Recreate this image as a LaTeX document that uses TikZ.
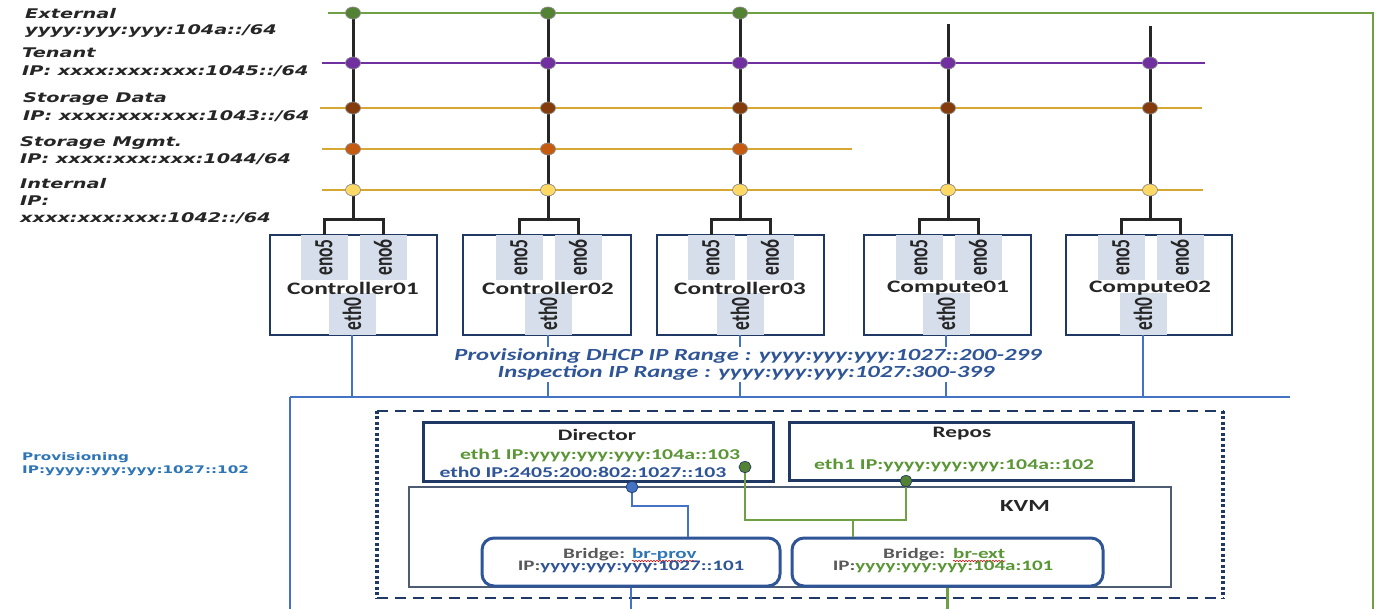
\documentclass[tikz,border=0pt]{standalone}
\usepackage{fontspec}
\usetikzlibrary{calc,shapes.geometric,decorations.pathmorphing}
\newfontfamily\fcal[FakeStretch=1.45]{Carlito}
\newfontfamily\fcalr{Carlito}
\newfontfamily\fver[FakeStretch=1.45]{DejaVu Sans}
\definecolor{navy}{HTML}{203864}
\definecolor{tabc}{HTML}{D6DEEC}
\definecolor{bl}{HTML}{4472C4}
\definecolor{btext}{HTML}{2F5597}
\definecolor{ltext}{HTML}{2E75B6}
\definecolor{gtext}{HTML}{5A9636}
\definecolor{gl}{HTML}{6FA046}
\definecolor{gdot}{HTML}{548235}
\definecolor{purp}{HTML}{7030A0}
\definecolor{gold}{HTML}{D6A832}
\definecolor{brn}{HTML}{843C0C}
\definecolor{orng}{HTML}{C55A11}
\definecolor{yel}{HTML}{FFD966}
\definecolor{blk}{HTML}{262626}
\definecolor{gry}{HTML}{595959}
\definecolor{kvmc}{HTML}{4D5B73}
\newcommand\rtab[1]{\scalebox{1.5}[1]{\rotatebox{90}{\fcalr\bfseries\fontsize{17.5}{17.5}\selectfont #1}}}
\tikzset{
  lab/.style={anchor=west, inner sep=0pt, text=blk, font=\fver\bfseries\itshape\fontsize{13.3}{15}\selectfont},
  plab/.style={anchor=west, inner sep=0pt, text=ltext, font=\fver\bfseries\fontsize{10.5}{12}\selectfont},
  vl/.style={line width=3pt, draw=blk},
  bus/.style={line width=2pt},
  bline/.style={line width=2.5pt, draw=bl},
  gline/.style={line width=2.5pt, draw=gl},
  dot/.style={ellipse, minimum width=15pt, minimum height=12pt, inner sep=0pt, draw=gry!70, line width=0.7pt},
  sdot/.style={dot, draw=navy, minimum width=12pt, minimum height=11pt},
  srv/.style={draw=navy, line width=2.5pt, minimum height=100pt, inner sep=0pt},
  tabbox/.style={fill=tabc, minimum width=47pt, inner sep=0pt, text=blk},
  srvlab/.style={inner sep=0pt, text=blk, font=\fcal\bfseries\fontsize{17.5}{20}\selectfont},
  prov/.style={fill=white, inner sep=1.5pt, text=btext, font=\fcal\bfseries\itshape\fontsize{17}{19}\selectfont},
  vmbox/.style={draw=navy, line width=3pt, inner sep=0pt},
  vmt/.style={inner sep=0pt, font=\fcal\bfseries\fontsize{15}{17}\selectfont},
  brbox/.style={draw=btext, line width=3pt, rounded corners=12pt, inner sep=0pt, minimum height=48pt},
  brt/.style={inner sep=0pt, font=\fcal\bfseries\fontsize{14.5}{16}\selectfont},
  squig/.style={draw=red!85!black, line width=0.6pt, decorate, decoration={snake, amplitude=0.7pt, segment length=3pt}},
}
\begin{document}
\begin{tikzpicture}[x=1pt,y=-1pt]
\useasboundingbox (0,0) rectangle (1383,609);
\fill[white] (0,0) rectangle (1383,609);

% left labels
\node[lab] (l1) at (25,14) {External};
\node[lab] (l2) at (25,31) {yyyy:yyy:yyy:104a::/64};
\node[lab] (l3) at (22,53) {Tenant};
\node[lab] (l4) at (22,71) {IP: xxxx:xxx:xxx:1045::/64};
\node[lab] (l5) at (23,99) {Storage Data};
\node[lab] (l6) at (23,116) {IP: xxxx:xxx:xxx:1043::/64};
\node[lab] (l7) at (20,143) {Storage Mgmt.};
\node[lab] (l8) at (20,159) {IP: xxxx:xxx:xxx:1044/64};
\node[lab] (l9) at (20,184) {Internal};
\node[lab] (l10) at (20,201) {IP:};
\node[lab] (l11) at (20,218) {xxxx:xxx:xxx:1042::/64};

% buses
\coordinate (ext-l) at (328,13); \coordinate (ext-r) at (1373,13); \coordinate (ext-b) at (1373,609);
\coordinate (ten-l) at (322,63); \coordinate (ten-r) at (1205,63);
\coordinate (sd-l) at (320,108); \coordinate (sd-r) at (1202,108);
\coordinate (sm-l) at (322,149); \coordinate (sm-r) at (852,149);
\coordinate (in-l) at (322,190); \coordinate (in-r) at (1203,190);
\draw[gline] (ext-l) -- (ext-r) -- (ext-b);
\draw[bus, draw=purp] (ten-l) -- (ten-r);
\draw[bus, draw=gold] (sd-l) -- (sd-r);
\draw[bus, draw=gold] (sm-l) -- (sm-r);
\draw[bus, draw=gold] (in-l) -- (in-r);

% provisioning network
\coordinate (hb) at (0,397);
\coordinate (hl) at (290,397); \coordinate (hr) at (1290,397); \coordinate (hbot) at (290,609);
\draw[bline] (hl) -- (hr);
\draw[bline] (hl) -- (hbot);

% servers
\foreach \n/\vx/\bl/\br/\name/\ex/\tp in {c1/353/270/437/Controller01/352/13, c2/548/463/631/Controller02/548/13, c3/740/657/824/Controller03/740/13, p1/948/864/1031/Compute01/946/24, p2/1150/1066/1232/Compute02/1143/26}{
  \coordinate (\n-t) at (\vx,\tp);
  \coordinate (\n-k) at (\vx,220);
  \draw[vl] (\n-t) -- (\n-k);
  \node[srv, minimum width={\br-\bl}] (\n) at ({(\bl+\br)/2},285) {};
  \node[tabbox, minimum height=45pt] (\n-a) at ({\vx-29},257.5) {\rtab{eno5}};
  \node[tabbox, minimum height=45pt] (\n-b) at ({\vx+30},257.5) {\rtab{eno6}};
  \node[tabbox, minimum height=42pt] (\n-e) at (\ex,314) {\rtab{eth0}};
  \node[srvlab] (\n-l) at (\vx,288) {\name};
  \draw[vl] (\n-a.north) |- (\n-k) -| (\n-b.north);
  \draw[bline] (\n-e.south) -- (\n-e.south |- hb);
}

% dots
\foreach \n/\vx in {c1/353, c2/548, c3/740}{
  \node[dot, fill=gdot] (\n-d1) at (\vx,13) {};
  \node[dot, fill=orng] (\n-d4) at (\vx,149) {};
}
\foreach \n/\vx in {c1/353, c2/548, c3/740, p1/948, p2/1150}{
  \node[dot, fill=purp] (\n-d2) at (\vx,63) {};
  \node[dot, fill=brn] (\n-d3) at (\vx,108) {};
  \node[dot, fill=yel] (\n-d5) at (\vx,190) {};
}

% range texts
\node[prov] (pt1) at (748,356) {Provisioning DHCP IP Range : yyyy:yyy:yyy:1027::200-299};
\node[prov] (pt2) at (746,373) {Inspection IP Range : yyyy:yyy:yyy:1027:300-399};

\node[plab] (pl1) at (22,458) {Provisioning};
\node[plab] (pl2) at (22,471) {IP:yyyy:yyy:yyy:1027::102};

% dashed enclosure
\node[minimum width=846pt, minimum height=187pt, inner sep=0pt] (dbx) at (800,504.5) {};
\draw[navy, line width=2.5pt, dash pattern=on 11pt off 7pt] (dbx.north west) -- (dbx.north east);
\draw[navy, line width=2.5pt, dash pattern=on 11pt off 7pt] (dbx.south west) -- (dbx.south east);
\draw[navy, line width=3.5pt, dash pattern=on 3pt off 2.5pt] (dbx.north west) -- (dbx.south west);
\draw[navy, line width=3.5pt, dash pattern=on 3pt off 2.5pt] (dbx.north east) -- (dbx.south east);

% KVM
\node[draw=kvmc, line width=1.6pt, minimum width=762pt, minimum height=100pt, inner sep=0pt] (kvm) at (790,537) {};
\node[vmt, text=blk, font=\fcal\bfseries\fontsize{17}{19}\selectfont] (kvmt) at (1025,506) {KVM};

% bridges
\node[brbox, minimum width=298pt] (brprov) at (631,562) {};
\node[brbox, minimum width=311pt] (brext) at (947.5,562) {};
\node[brt, anchor=base west, text=gry] (bp1) at (563,558) {Bridge:};
\node[brt, anchor=base west, text=ltext] (bp2) at (632,558) {br-prov};
\draw[squig] ($(bp2.base west)+(0,3)$) -- ($(bp2.base east)+(0,3)$);
\node[brt, text=btext] (bp3) at (631,567) {\textcolor{gry}{IP:}yyyy:yyy:yyy:1027::101};
\node[brt, anchor=base west, text=gry] (be1) at (883,558) {Bridge:};
\node[brt, anchor=base west, text=gtext] (be2) at (953,558) {br-ext};
\draw[squig] ($(be2.base west)+(0,3)$) -- ($(be2.base east)+(0,3)$);
\node[brt, text=gtext] (be3) at (943,567) {\textcolor{gry}{IP:}yyyy:yyy:yyy:104a:101};

% Director and Repos
\node[vmbox, minimum width=350pt, minimum height=59pt] (dir) at (598,451.5) {};
\node[vmt, text=blk, font=\fcal\bfseries\fontsize{16}{18}\selectfont] (dirt) at (597,435) {Director};
\node[vmt, text=gtext] (dir1) at (600,455) {eth1 IP:yyyy:yyy:yyy:104a::103};
\node[vmt, text=btext] (dir0) at (583,472) {eth0 IP:2405:200:802:1027::103};
\node[vmbox, minimum width=344pt, minimum height=58pt] (rep) at (961,451) {};
\node[vmt, text=blk, font=\fcal\bfseries\fontsize{16}{18}\selectfont] (rept) at (962,434) {Repos};
\node[vmt, text=gtext] (rep1) at (954,465) {eth1 IP:yyyy:yyy:yyy:104a::102};

% connectors inside
\coordinate (bdp) at (632,487);
\coordinate (gdp) at (745,467);
\coordinate (grp) at (906,481);
\coordinate (bj) at (688,506);
\coordinate (gj) at (853,520);
\coordinate (bot) at (0,609);
\draw[bline] (bdp) |- (bj) -- (bj |- brprov.north);
\draw[bline] (brprov.south) -- (brprov.south |- bot);
\draw[gline] (gdp) |- (gj) -| (grp);
\draw[gline] (gj) -- (gj |- brext.north);
\draw[gline] (brext.south) -- (brext.south |- bot);
\node[sdot, fill=bl] (bdir) at (bdp) {};
\node[sdot, fill=gdot] (gdir) at (gdp) {};
\node[sdot, fill=gdot] (grep) at (grp) {};
\end{tikzpicture}
\end{document}
